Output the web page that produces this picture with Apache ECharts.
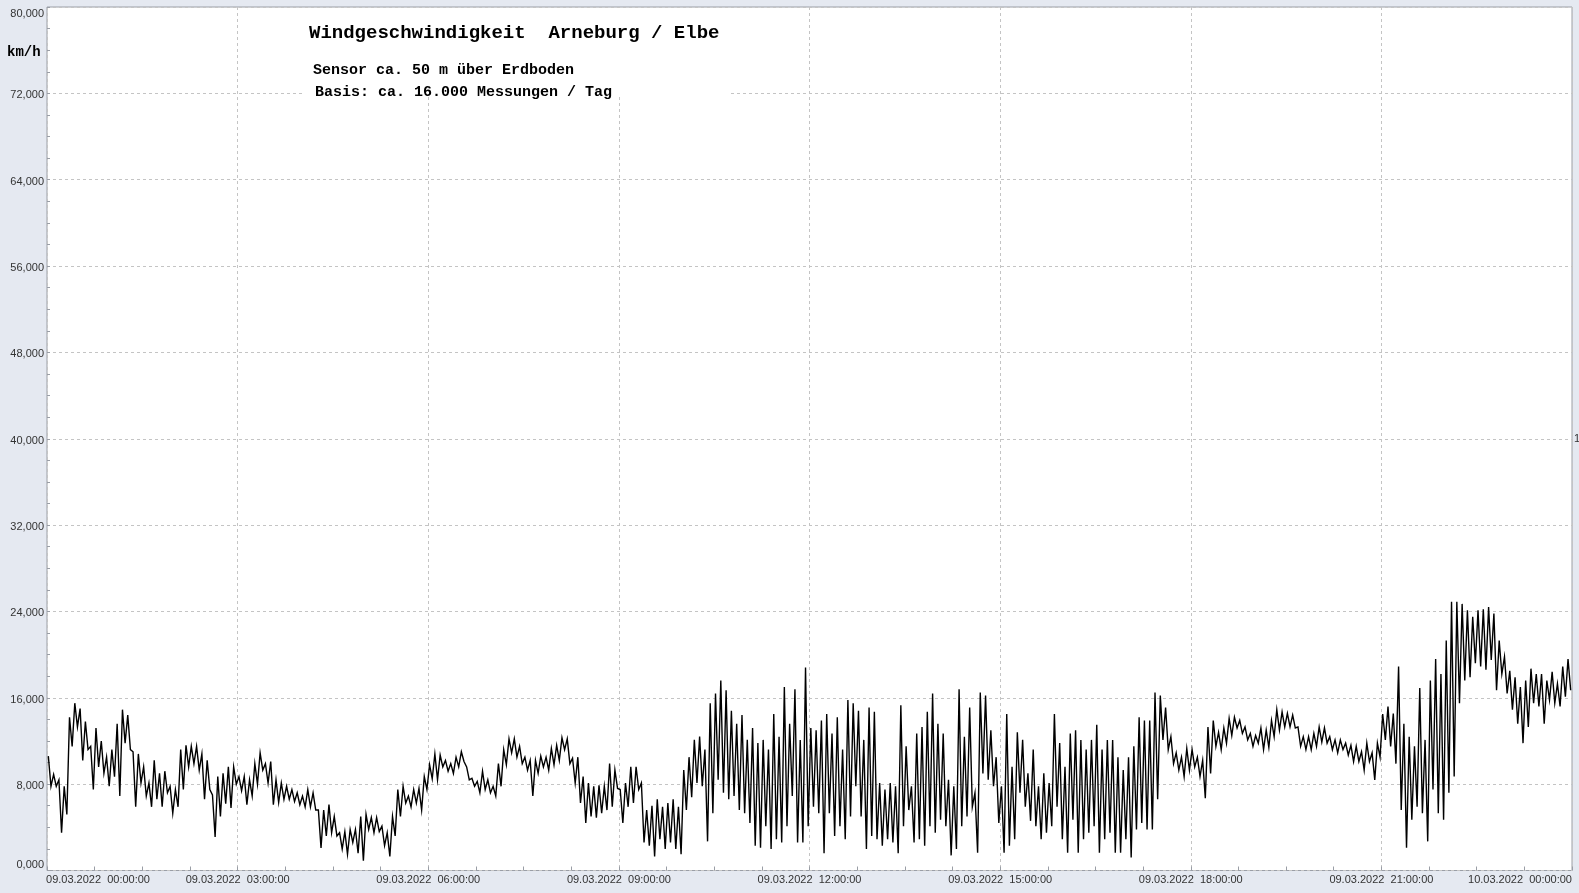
<!DOCTYPE html>
<html>
<head>
<meta charset="utf-8">
<script src="https://cdn.jsdelivr.net/npm/echarts@6/dist/echarts.min.js"></script>
<style>
html,body{margin:0;padding:0;background:#e5e9f1;}
#chart{width:1579px;height:893px;}
</style>
</head>
<body>
<div id="chart"></div>
<script>
// 5-minute bins over 24 h (09.03.2022 00:00 -> 10.03.2022 00:00), km/h
const STEP_MIN = 5;
// upper envelope of each bin
const hiVals = [
  // 0-57
  10.6, 8.9, 8.4, 7.8, 14.2, 15.5, 15.0, 13.8, 11.5, 13.2,
  12.0, 10.5, 11.2, 13.6, 14.9, 14.4, 11.0, 10.8, 9.6, 8.1,
  10.2, 9.0, 9.2, 7.8, 7.5, 11.2, 11.6, 11.5, 11.5, 10.8,
  10.2, 7.0, 8.7, 9.0, 9.6, 9.6, 8.7, 8.7, 8.4, 9.9,
  10.9, 9.9, 10.1, 8.4, 8.1, 7.8, 7.5, 7.2, 6.9, 7.5,
  7.2, 5.6, 5.6, 6.1, 5.0, 3.5, 3.6, 3.8,
  // 58-114
  3.8, 5.0, 5.2, 4.9, 4.9, 4.1, 3.5, 5.0, 7.5, 7.8,
  6.9, 7.5, 7.6, 8.7, 9.8, 10.8, 10.7, 10.2, 9.9, 10.5,
  11.0, 9.6, 8.55, 8.25, 9.2, 8.4, 7.8, 9.9, 11.2, 12.2,
  12.2, 11.5, 10.5, 10.2, 10.2, 10.6, 10.5, 11.3, 11.6, 12.3,
  12.2, 10.4, 10.5, 8.7, 8.1, 7.8, 7.9, 7.8, 9.9, 9.3,
  7.5, 8.1, 9.6, 9.6, 8.1, 5.6, 6.0,
  // 115-172
  6.6, 5.9, 6.25, 6.6, 5.9, 9.3, 10.5, 12.1, 12.4, 11.2,
  15.5, 16.4, 17.6, 16.7, 14.8, 13.6, 14.4, 12.1, 13.2, 11.8,
  12.1, 11.2, 14.5, 12.4, 17.0, 13.6, 16.8, 12.1, 18.8, 13.2,
  13.0, 13.9, 14.5, 12.7, 14.2, 11.2, 15.8, 15.5, 14.8, 12.1,
  15.1, 14.7, 8.1, 7.5, 8.1, 7.8, 15.3, 11.5, 7.8, 12.7,
  13.3, 14.7, 16.4, 13.6, 12.7, 8.4, 7.8, 16.8,
  // 173-229
  12.4, 15.1, 7.2, 16.5, 16.2, 13.0, 10.5, 7.8, 14.5, 9.6,
  12.8, 12.1, 9.0, 11.2, 7.8, 9.0, 8.1, 14.5, 11.8, 9.6,
  12.7, 13.0, 12.1, 11.2, 12.1, 13.5, 11.2, 12.1, 12.1, 10.5,
  9.3, 10.5, 11.5, 14.2, 13.9, 13.9, 16.5, 16.2, 15.1, 12.4,
  10.9, 10.5, 11.3, 11.2, 10.5, 10.2, 13.3, 13.9, 12.8, 13.2,
  14.1, 14.2, 13.9, 13.3, 12.7, 12.5, 13.2,
  // 230-287
  13.0, 13.9, 14.9, 14.7, 14.55, 14.4, 13.3, 12.4, 12.4, 12.7,
  13.3, 13.2, 12.4, 12.1, 12.1, 11.8, 11.6, 11.5, 11.0, 11.8,
  10.9, 11.8, 14.5, 15.2, 14.55, 18.9, 13.6, 12.4, 11.5, 16.9,
  12.1, 17.6, 19.6, 18.2, 21.3, 24.9, 24.9, 24.7, 24.1, 23.5,
  24.1, 24.2, 24.4, 23.8, 21.3, 19.8, 18.5, 17.9, 17.0, 17.6,
  18.7, 18.2, 18.2, 17.6, 18.4, 17.3, 18.9, 19.6
];
// lower envelope of each bin
const loVals = [
  // 0-57
  7.8, 7.8, 3.5, 5.2, 11.5, 13.3, 10.2, 11.2, 7.5, 9.6,
  9.0, 7.8, 8.7, 6.9, 11.8, 11.2, 5.9, 8.1, 6.9, 5.9,
  6.6, 5.9, 7.2, 5.3, 5.9, 7.5, 9.6, 9.9, 9.3, 6.6,
  7.5, 3.1, 5.0, 6.2, 5.8, 8.0, 7.4, 6.1, 6.9, 8.0,
  9.3, 8.1, 6.1, 6.3, 6.6, 6.6, 6.4, 6.1, 5.9, 5.9,
  5.6, 2.1, 3.2, 3.5, 3.2, 2.0, 1.5, 2.6,
  // 58-114
  1.6, 0.9, 3.8, 3.5, 3.6, 2.3, 1.3, 3.2, 5.0, 6.25,
  5.9, 6.25, 5.6, 7.5, 8.5, 8.4, 9.6, 9.2, 9.0, 9.6,
  10.1, 8.4, 7.8, 7.2, 7.5, 7.2, 6.9, 7.8, 9.8, 10.9,
  10.5, 9.9, 9.3, 6.9, 9.0, 9.6, 9.3, 9.8, 10.2, 11.2,
  9.9, 8.1, 6.25, 4.4, 5.0, 4.9, 5.3, 5.6, 5.9, 7.6,
  4.4, 5.9, 6.25, 7.5, 2.6, 2.3, 1.3,
  // 115-172
  2.9, 2.0, 2.6, 2.0, 1.5, 5.6, 6.8, 8.1, 7.8, 2.7,
  5.3, 8.4, 7.2, 6.6, 6.9, 5.6, 5.3, 4.4, 2.3, 2.1,
  4.1, 2.0, 2.9, 2.6, 4.1, 6.9, 2.6, 2.6, 4.1, 5.9,
  5.3, 1.6, 5.3, 3.2, 4.1, 2.9, 5.0, 7.8, 5.0, 2.0,
  3.2, 2.9, 2.3, 2.9, 2.6, 1.6, 4.1, 5.6, 2.6, 2.9,
  2.3, 4.1, 3.5, 4.7, 4.1, 1.4, 2.0, 4.1,
  // 173-229
  5.0, 5.9, 1.65, 9.0, 8.4, 7.8, 4.4, 1.65, 2.3, 2.9,
  7.2, 5.9, 4.6, 4.1, 2.9, 3.5, 4.1, 5.9, 2.9, 1.65,
  4.7, 1.65, 2.9, 3.5, 4.1, 1.65, 2.9, 3.5, 1.65, 1.65,
  2.9, 1.2, 3.8, 4.4, 3.8, 3.8, 6.6, 12.1, 11.2, 9.9,
  9.3, 8.7, 9.3, 9.6, 8.7, 6.7, 9.0, 11.5, 11.2, 11.8,
  12.5, 13.2, 12.7, 12.1, 11.5, 11.8, 11.2,
  // 230-287
  11.4, 12.4, 13.0, 13.3, 13.3, 13.2, 11.5, 11.2, 11.2, 11.5,
  11.9, 11.8, 11.2, 10.9, 11.2, 10.7, 10.1, 10.1, 9.3, 10.1,
  8.4, 10.5, 12.1, 11.5, 9.9, 5.6, 2.1, 4.7, 5.9, 5.3,
  2.7, 7.5, 5.3, 4.7, 7.2, 8.7, 15.5, 17.6, 17.9, 19.2,
  18.9, 18.6, 19.5, 16.7, 18.2, 16.4, 14.9, 13.6, 11.8, 13.3,
  15.5, 15.2, 13.6, 15.8, 15.5, 15.2, 16.1, 16.7
];
const xTickLabels = [
  '09.03.2022  00:00:00', '09.03.2022  03:00:00', '09.03.2022  06:00:00',
  '09.03.2022  09:00:00', '09.03.2022  12:00:00', '09.03.2022  15:00:00',
  '09.03.2022  18:00:00', '09.03.2022  21:00:00', '10.03.2022  00:00:00'
];
const titleText = 'Windgeschwindigkeit  Arneburg / Elbe';
const subText1 = 'Sensor ca. 50 m über Erdboden';
const subText2 = 'Basis: ca. 16.000 Messungen / Tag';
const unitText = 'km/h';

const seriesData = [];
for (let i = 0; i < hiVals.length; i++) {
  seriesData.push([i * STEP_MIN + STEP_MIN * 0.25, hiVals[i]]);
  seriesData.push([i * STEP_MIN + STEP_MIN * 0.75, loVals[i]]);
}

const chart = echarts.init(document.getElementById('chart'), null, {renderer: 'canvas'});
const lblColor = '#333';
const sans = '"Liberation Sans", Arial, sans-serif';
const mono = '"Liberation Mono", "Courier New", monospace';
chart.setOption({
  animation: false,
  backgroundColor: '#e5e9f1',
  grid: {
    left: 47, right: 7, top: 7, bottom: 22.5,
    show: true, backgroundColor: '#ffffff', borderColor: '#9a9ea6', borderWidth: 1
  },
  xAxis: {
    type: 'value', min: 0, max: 1440, interval: 180,
    axisLine: {show: false},
    axisTick: {show: true, inside: true, length: 4, lineStyle: {color: '#9a9ea6'}},
    minorTick: {show: true, splitNumber: 4, length: 4, lineStyle: {color: '#9a9ea6'}},
    splitLine: {show: true, lineStyle: {color: '#c4c4c4', type: [3, 3], width: 1}},
    axisLabel: {
      margin: 4, color: lblColor, fontFamily: sans, fontSize: 11,
      formatter: function (v) {
        const idx = Math.round(v / 180);
        const t = xTickLabels[idx] || '';
        if (idx === 0) return '{first|' + t + '}';
        if (idx === xTickLabels.length - 1) return '{last|' + t + '}';
        return t;
      },
      rich: {
        first: {padding: [0, 0, 0, 102], fontSize: 11, color: lblColor, fontFamily: sans},
        last: {padding: [0, 104, 0, 0], fontSize: 11, color: lblColor, fontFamily: sans}
      }
    }
  },
  yAxis: {
    type: 'value', min: 0, max: 80, interval: 8,
    axisLine: {show: false},
    axisTick: {show: true, inside: true, length: 3, lineStyle: {color: '#9a9ea6'}},
    minorTick: {show: true, splitNumber: 4, length: 3, lineStyle: {color: '#9a9ea6'}},
    splitLine: {show: true, lineStyle: {color: '#c4c4c4', type: [3, 3], width: 1}},
    axisLabel: {
      margin: 3, color: lblColor, fontFamily: sans, fontSize: 11,
      formatter: function (v) {
        const s = v.toFixed(3).replace('.', ',');
        if (v >= 80) return '{top|' + s + '}';
        if (v <= 0) return '{bot|' + s + '}';
        return '{mid|' + s + '}';
      },
      rich: {
        top: {padding: [13, 0, 0, 0], fontSize: 11, color: lblColor, fontFamily: sans},
        mid: {padding: [4, 0, 0, 0], fontSize: 11, color: lblColor, fontFamily: sans},
        bot: {padding: [0, 0, 12, 0], fontSize: 11, color: lblColor, fontFamily: sans}
      }
    }
  },
  graphic: [
    {type: 'rect', z: 10, shape: {x: 303, y: 8, width: 427, height: 88}, style: {fill: '#ffffff'}},
    {type: 'text', z: 11, x: 309, y: 33, style: {text: titleText, font: 'bold 19px ' + mono, fill: '#000', textAlign: 'left', textVerticalAlign: 'middle'}},
    {type: 'text', z: 11, x: 313, y: 70, style: {text: subText1, font: 'bold 15px ' + mono, fill: '#000', textAlign: 'left', textVerticalAlign: 'middle'}},
    {type: 'text', z: 11, x: 315, y: 92, style: {text: subText2, font: 'bold 15px ' + mono, fill: '#000', textAlign: 'left', textVerticalAlign: 'middle'}},
    {type: 'text', z: 11, x: 7, y: 52, style: {text: unitText, font: 'bold 14px ' + mono, fill: '#000', textAlign: 'left', textVerticalAlign: 'middle'}},
    {type: 'text', z: 11, x: 1574, y: 439, style: {text: '1', font: '11px ' + sans, fill: '#333', textAlign: 'left', textVerticalAlign: 'middle'}}
  ],
  series: [{
    type: 'line',
    data: seriesData,
    showSymbol: false,
    symbol: 'none',
    sampling: null,
    clip: true,
    lineStyle: {color: '#000', width: 1.4, join: 'miter'},
    z: 5
  }]
});
</script>
</body>
</html>
